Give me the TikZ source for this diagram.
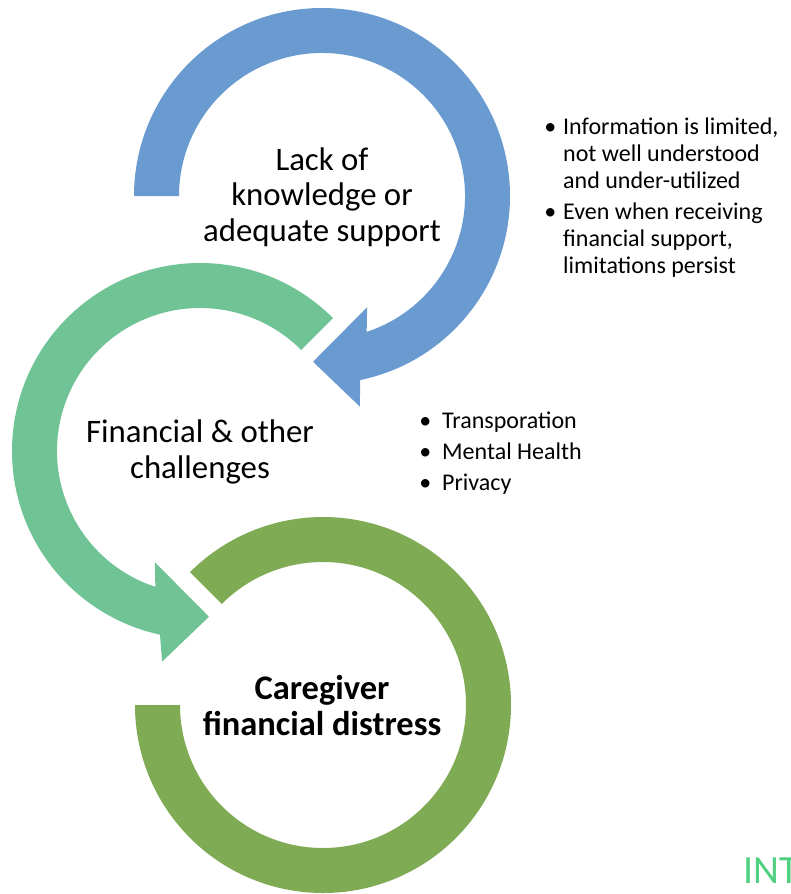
\documentclass[tikz,border=0pt]{standalone}
\usepackage{fontspec}
\setmainfont{Carlito}
\usetikzlibrary{calc}
\definecolor{arcblue}{RGB}{106,155,208}
\definecolor{arcmint}{RGB}{111,195,149}
\definecolor{arcolive}{RGB}{128,171,85}
\definecolor{intgreen}{RGB}{80,208,128}
\begin{document}
\begin{tikzpicture}[x=1pt,y=1pt,
  lbl/.style={font=\fontsize{32.8}{35.5}\selectfont, align=center, inner sep=0pt},
  bold lbl/.style={lbl, font=\fontsize{34.5}{35.5}\selectfont\bfseries},
  bullets/.style={font=\fontsize{24}{27}\selectfont, align=left, inner sep=0pt, anchor=base west}]
\clip (0,0) rectangle (790,-894);
\coordinate (cb) at (322,-196);
\coordinate (cg) at (200,-451);
\coordinate (cd) at (323,-705);
% blue circular arrow
\fill[arcblue] ($(cb)+(180:188)$) arc[start angle=180,end angle=-78.3,radius=188pt]
  -- ($(cb)+(-79.8:214)$) -- ($(cb)+(-93.1:166)$) -- ($(cb)+(-67.9:120)$)
  -- ($(cb)+(-71.8:143)$) arc[start angle=-71.8,end angle=180,radius=143pt] -- cycle;
% mint circular arrow
\fill[arcmint] ($(cg)+(45:188)$) arc[start angle=45,end angle=257.7,radius=188pt]
  -- ($(cg)+(259.8:214)$) -- ($(cg)+(273.1:166)$) -- ($(cg)+(247.9:120)$)
  -- ($(cg)+(251.8:143)$) arc[start angle=251.8,end angle=45,radius=143pt] -- cycle;
% olive ring
\fill[arcolive] ($(cd)+(180:188)$) arc[start angle=180,end angle=495,radius=188pt]
  -- ($(cd)+(135:143)$) arc[start angle=495,end angle=180,radius=143pt] -- cycle;
% labels
\node[lbl, anchor=base] (lack) at (322,-241) {Lack of\\knowledge or\\adequate support};
\node[lbl, anchor=base] (fin) at (200,-478) {Financial \& other\\challenges};
\node[bold lbl, anchor=base] (care) at (322,-735) {Caregiver\\financial distress};
% bullet lists
\node[bullets] (info) at (563,-273) {\llap{•\hspace{7pt}}Information is limited,\\not well understood\\and under-utilized\\[4pt]\llap{•\hspace{7pt}}Even when receiving\\financial support,\\limitations persist};
\node[bullets, font=\fontsize{24}{31}\selectfont] (chal) at (442,-490) {\llap{•\hspace{11pt}}Transporation\\\llap{•\hspace{11pt}}Mental Health\\\llap{•\hspace{11pt}}Privacy};
\node[anchor=base west, inner sep=0pt, font=\fontsize{40}{40}\selectfont, text=intgreen] (int) at (743,-883) {INT};
\end{tikzpicture}
\end{document}
